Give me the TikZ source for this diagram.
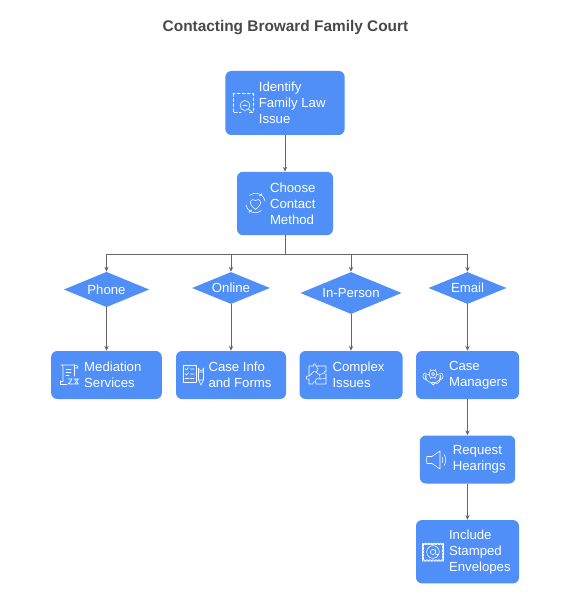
\documentclass[tikz,border=0pt]{standalone}
\usepackage{fontspec}
\setmainfont{Liberation Sans}
\usetikzlibrary{arrows.meta, calc, shapes.geometric}

\definecolor{boxColour}{HTML}{4F8FF7}
\definecolor{lineColour}{HTML}{666666}
\definecolor{titleColour}{HTML}{484848}

\tikzset{
    % 1 unit is 1 pixel of the reference, y runs downwards
    stepbox/.style={draw=none, fill=boxColour, rounded corners=4.5pt, minimum height=36pt, inner sep=0pt},
    branch/.style={diamond, aspect=2.43, draw=none, fill=boxColour, inner sep=0pt, text=white, font=\fontsize{9.9pt}{12pt}\selectfont},
    boxtext/.style={anchor=west, align=left, inner sep=0pt, text=white, font=\fontsize{9.9pt}{12pt}\selectfont},
    flow/.style={draw=lineColour, line width=0.7pt},
    flowarrow/.style={flow, -{Stealth[length=3.6pt, width=3.2pt]}},
    icon/.style={draw=white, line width=0.42pt, line cap=round, line join=round},
    pics/findicon/.style={code={
        \draw[icon, dash pattern=on 2.2pt off 1.6pt] (-10,-9.5) rectangle (10,9.5);
        \fill[boxColour] (2,2.5) circle (8);
        \draw[icon] (2,2.5) circle (5) (0,2.5) -- (4,2.5) (5.8,6.3) -- (10,10);
    }},
    pics/hearticon/.style={code={
        \draw[icon] (0,6.5) .. controls (-9,0) and (-4,-6) .. (0,-2.5) .. controls (4,-6) and (9,0) .. (0,6.5);
        \draw[icon] (-9.5,2) arc (170:50:9.5) (6,-7.5) -- (6.4,-10) (6,-7.5) -- (3.5,-7.2);
        \draw[icon] (9.5,-2) arc (-10:-130:9.5) (-6,7.5) -- (-6.4,10) (-6,7.5) -- (-3.5,7.2);
    }},
    pics/scrollicon/.style={code={
        \draw[icon] (-6,6) -- (-6,-8) .. controls (-6,-10) and (-7,-10) .. (-8,-10) -- (6,-10) .. controls (8,-10) and (9,-9) .. (9,-7) -- (5,-7);
        \draw[icon] (5,-10) -- (5,1);
        \draw[icon] (-3,-6) -- (2,-6) (-3,-3) -- (2,-3) (-3,0) -- (0,0);
        \draw[icon] (-8.5,6) -- (-8.5,9.5) -- (-2,9.5) (-8.5,6) -- (-6,6);
        \draw[icon] (-1,4) -- (3,4) -- (0,9) -- (5,9) (-1,9) -- (3,4.5) (5,4) -- (10,4) (6,9) -- (10,9) (6,4.5) -- (9,8.5) (9,4.5) -- (6,8.5);
    }},
    pics/formicon/.style={code={
        \draw[icon] (3,7) -- (3,-9.5) -- (-10,-9.5) -- (-10,7) -- (-2,7) (3,7) -- (-2,7);
        \draw[icon] (-8,-6.5) -- (-6.5,-5) -- (-4.5,-7.5) (-2.5,-6) -- (1,-6);
        \draw[icon] (-8,-1.5) -- (-6.5,0) -- (-4.5,-2.5) (-2.5,-1) -- (1,-1);
        \draw[icon] (-8,3.5) -- (-4,3.5) (-2.5,3.5) -- (1,3.5);
        \fill[boxColour] (5,-11) rectangle (11,11);
        \draw[icon] (5.5,-7) arc (180:0:2.5) -- (10.5,5) -- (8,10) -- (5.5,5) -- cycle (5.5,-3) -- (10.5,-3) (5.5,5) -- (10.5,5);
    }},
    pics/puzzleicon/.style={code={
        \draw[icon] (-8,-9) -- (-3,-9) .. controls (-5,-12) and (0,-12) .. (-1,-9) -- (9,-9) -- (9,-3) .. controls (6,-5) and (6,0) .. (9,-1) -- (9,9) -- (-1,9) .. controls (0,6) and (-5,6) .. (-4,9) -- (-8,9) -- (-8,4) .. controls (-12,6) and (-12,0) .. (-8,1) -- cycle;
        \draw[icon] (-8,1) .. controls (-4,-1) and (-5,-5) .. (-1,-3) .. controls (2,-5) and (1,-7) .. (-1,-9);
        \draw[icon] (-1,-3) .. controls (2,0) and (4,0) .. (6,-1.5);
        \draw[icon] (-1.5,7) .. controls (-2,3) and (2,3) .. (3,4) .. controls (4,1) and (2,0) .. (2,-1);
        \draw[icon] (3,4) .. controls (5,5) and (7,3) .. (9,3);
    }},
    pics/headseticon/.style={code={
        \draw[icon] (-8,0) arc (180:0:8);
        \draw[icon] (-8,-2) .. controls (-11,-1) and (-11,4) .. (-7,5) -- (-7,-2) (8,-2) .. controls (11,-1) and (11,4) .. (7,5) -- (7,-2);
        \draw[icon] (7,5) .. controls (6,9) and (3,8.5) .. (1.5,8.5);
        \draw[icon] (0,8.5) circle (1.6);
        \draw[icon] (0,-1) circle (1.6) (0,-1) circle (4);
        \foreach \ang in {0,60,...,300}
            \draw[icon] ($(0,-1)+(\ang:4)$) -- ($(0,-1)+(\ang:5.3)$);
    }},
    pics/speakericon/.style={code={
        \draw[icon] (-10,-3.5) -- (-5,-3.5) -- (3,-9) -- (3,9) -- (-5,3.5) -- (-10,3.5) .. controls (-11,1) and (-11,-1) .. (-10,-3.5);
        \draw[icon] (5,-3) arc (-35:35:5.2) (7,-5.5) arc (-35:35:9.5);
    }},
    pics/stampicon/.style={code={
        \draw[icon, dash pattern=on 1.6pt off 0.9pt] (-9.5,-8) rectangle (9.5,8);
        \draw[icon] (-10.5,-9) rectangle (10.5,9);
        \fill[boxColour] (-11,-9.5) rectangle (11,-8.7) (-11,8.7) rectangle (11,9.5);
        \foreach \pos in {-9,-6,...,9} {
            \draw[icon] (\pos-1.5,-9) arc (180:0:1.5);
            \draw[icon] (\pos-1.5,9) arc (180:360:1.5);
        }
        \draw[icon] (0,0) circle (2.6);
        \draw[icon] (2.6,-2.5) -- (2.6,1) .. controls (2.6,4) and (6.3,3) .. (6.3,0) arc (0:-340:6.3);
    }}
}

\begin{document}
\begin{tikzpicture}[x=0.75pt, y=-0.75pt]
    \useasboundingbox (0,0) rectangle (568,599);

    % Title
    \node[text=titleColour, font=\fontsize{11.55pt}{14pt}\selectfont\bfseries] (title) at (285.5,28) {Contacting Broward Family Court};

    % Top of the chart
    \node[stepbox, minimum width=89.5pt, minimum height=48pt] (identify) at (285,103) {};
    \node[stepbox, minimum width=72pt, minimum height=47.5pt] (choose) at (285,203.5) {};
    \coordinate (bus) at (285,254);

    % Contact branches
    \node[branch, minimum width=64pt, minimum height=26.5pt] (phone) at (106.5,289.5) {Phone};
    \node[branch, minimum width=58.5pt, minimum height=24pt] (online) at (231,288) {Online};
    \node[branch, minimum width=76pt, minimum height=31.5pt] (person) at (351,293) {In-Person};
    \node[branch, minimum width=58.5pt, minimum height=24pt] (email) at (467.5,288) {Email};

    % Boxes under the branches
    \node[stepbox, minimum width=83pt] (mediation) at (106.5,375) {};
    \node[stepbox, minimum width=82.5pt] (forms) at (231,375) {};
    \node[stepbox, minimum width=77.25pt] (complex) at (351,375) {};
    \node[stepbox, minimum width=77.25pt] (managers) at (467.5,375) {};
    \node[stepbox, minimum width=71.5pt] (hearings) at (467.5,459.5) {};
    \node[stepbox, minimum width=77.25pt, minimum height=47.5pt] (envelopes) at (467.5,551.75) {};

    % Box texts
    \node[boxtext] (identifyText) at ($(identify.west)+(33.5,0)$) {Identify\\Family Law\\Issue};
    \node[boxtext] (chooseText) at ($(choose.west)+(33,0)$) {Choose\\Contact\\Method};
    \node[boxtext] (mediationText) at ($(mediation.west)+(33,0)$) {Mediation\\Services};
    \node[boxtext] (formsText) at ($(forms.west)+(32.5,0)$) {Case Info\\and Forms};
    \node[boxtext] (complexText) at ($(complex.west)+(33,0)$) {Complex\\Issues};
    \node[boxtext] (managersText) at ($(managers.west)+(33,0)$) {Case\\Managers};
    \node[boxtext] (hearingsText) at ($(hearings.west)+(33,0)$) {Request\\Hearings};
    \node[boxtext] (envelopesText) at ($(envelopes.west)+(33,0)$) {Include\\Stamped\\Envelopes};

    % Icons
    \pic at (243,103) {findicon};
    \pic at (255.5,203) {hearticon};
    \pic at (69,375) {scrollicon};
    \pic at (193,375) {formicon};
    \pic at (317,375) {puzzleicon};
    \pic at (433,375) {headseticon};
    \pic at (437,460) {speakericon};
    \pic at (433,552) {stampicon};

    % Connectors
    \draw[flowarrow] (identify) -- (choose);
    \draw[flow] (choose) -- (bus);
    \foreach \target in {phone,online,person,email}
        \draw[flowarrow] (bus) -| (\target.north);
    \draw[flowarrow] (phone) -- (mediation);
    \draw[flowarrow] (online) -- (forms);
    \draw[flowarrow] (person) -- (complex);
    \draw[flowarrow] (email) -- (managers);
    \draw[flowarrow] (managers) -- (hearings);
    \draw[flowarrow] (hearings) -- (envelopes);
\end{tikzpicture}
\end{document}
